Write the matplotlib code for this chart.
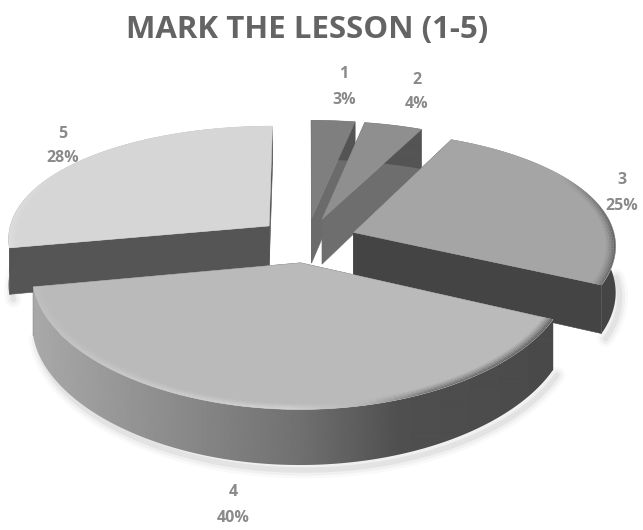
import numpy as np
import matplotlib
matplotlib.use("Agg")
import matplotlib.pyplot as plt
from matplotlib.patches import Polygon

# chart data
marks = ["1", "2", "3", "4", "5"]
shares = [3, 4, 25, 40, 28]
title = "MARK THE LESSON (1-5)"

# styling per slice
top_colors = ["#7f7f7f", "#8f8f8f", "#a5a5a5", "#bababa", "#d6d6d6"]
wall_colors = ["#6b6b6b", "#6e6e6e", "#444444", "#4c4c4c", "#555555"]
draw_order = [0, 1, 4, 2, 3]
label_xy = [(344, 87), (417, 92), (622, 193), (233, 505), (63, 146)]

# projection of the exploded pie onto the picture
CX, CY = 307, 240
RX, RY = 262, 118
PERSP_X = 0.10
PERSP_Y = 0.145
EXPLODE = 0.19
DEPTH = 46


def project(X, Y):
    wx = 1 / (1 - PERSP_X * Y)
    wy = 1 / (1 - PERSP_Y * Y)
    return CX + RX * X * wx, CY + RY * Y * wy, wy


def slice_points(a0, a1, radius=1.0, n=120):
    # angles clockwise from the top, Y grows towards the viewer
    mid = (a0 + a1) / 2
    ox, oy = EXPLODE * np.sin(mid), -EXPLODE * np.cos(mid)
    ang = np.linspace(a0, a1, n)
    return ox, oy, ox + radius * np.sin(ang), oy - radius * np.cos(ang)


def grey(v):
    v = np.clip(v, 0, 1)
    return (v, v, v)


def wall_shade(i, x):
    # slice 4 carries the long gradient, the others stay nearly flat
    if i == 3:
        return np.interp(x, [35, 170, 300, 400, 550], [0.66, 0.55, 0.44, 0.31, 0.29])
    if i == 2:
        return np.interp(x, [0, 643], [0.30, 0.27])
    return np.full_like(x, 0.33, dtype=float)


def bevel_shade(i, x, base):
    if i == 3:
        return np.interp(x, [35, 120, 290, 370, 430, 550], [0.76, 0.80, 0.84, 0.70, 0.42, 0.32])
    if i == 2:
        return np.interp(x, [560, 612], [base, 0.34])
    if i == 4:
        return np.interp(x, [15, 60], [0.88, base])
    return base


fig = plt.figure(figsize=(6.43, 5.3), dpi=100)
ax = fig.add_axes([0, 0, 1, 1])
ax.axis("off")

edges = 2 * np.pi * np.concatenate([[0], np.cumsum(shares)]) / sum(shares)

# soft shadow under the outer rims, front half only
for i in [2, 3, 4]:
    ox, oy, xs, ys = slice_points(edges[i], edges[i + 1])
    ang = np.linspace(edges[i], edges[i + 1], len(xs))
    front = np.cos(ang) < 0.05
    px, py, w = project(xs[front], ys[front])
    for lw, alpha in [(12, 0.025), (8, 0.035), (4, 0.05)]:
        ax.plot(px + 4, py + DEPTH * w + 5, color="black", lw=lw, alpha=alpha, zorder=1,
                solid_capstyle="round")

grad_x = np.arange(0, 643)
for z, i in enumerate(draw_order):
    a0, a1 = edges[i], edges[i + 1]
    base = int(top_colors[i][1:3], 16) / 255
    ox, oy, xs, ys = slice_points(a0, a1)
    ax0, ay0, aw = project(ox, oy)
    px, py, w = project(xs, ys)
    zo = 2 + z

    # radial walls
    for j in [0, -1]:
        quad = [(ax0, ay0), (px[j], py[j]), (px[j], py[j] + DEPTH * w[j]), (ax0, ay0 + DEPTH * aw)]
        ax.fill(*zip(*quad), color=wall_colors[i], lw=0.4, zorder=zo)

    # outer wall, a horizontal gradient clipped to the rim band
    band = np.c_[np.r_[px, px[::-1]], np.r_[py, (py + DEPTH * w)[::-1]]]
    im = ax.imshow(wall_shade(i, grad_x)[None, :], cmap="gray", vmin=0, vmax=1, aspect="auto",
                   extent=(0, 643, 530, 0), zorder=zo, interpolation="bilinear")
    im.set_clip_path(Polygon(band, transform=ax.transData))

    # top surface
    ax.fill(np.r_[ax0, px], np.r_[ay0, py], color=top_colors[i], lw=0.4, zorder=zo)

    # bevel along the rim
    if i in (2, 3, 4):
        for t in np.linspace(1, 0, 7):
            _, _, xr, yr = slice_points(a0, a1, radius=1 - 0.035 * (1 - t) - 0.004)
            qx, qy, _ = project(xr, yr)
            for k in range(len(qx) - 1):
                v = bevel_shade(i, qx[k], base)
                c = base + (v - base) * t * 0.9 * (1 - (1 - t) * 0.3)
                ax.plot(qx[k:k + 2], qy[k:k + 2], color=grey(c), lw=1.0, zorder=zo,
                        solid_capstyle="butt")

ax.set_xlim(0, 643)
ax.set_ylim(530, 0)

for mark, share, (lx, ly) in zip(marks, shares, label_xy):
    ax.text(lx, ly, f"{mark}\n{share}%", ha="center", va="center", fontsize=11.5,
            fontweight="bold", family="Open Sans", color="#8a8a8a", linespacing=1.75, zorder=20)

ax.text(307, 30, title, ha="center", va="center", fontsize=22.5, fontweight="bold",
        family="Open Sans", color="#646464", zorder=20)

fig.savefig("out.png", dpi=100)
